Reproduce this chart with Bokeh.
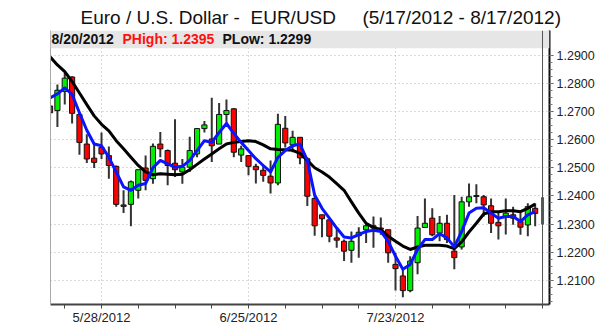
import pandas as pd
from bokeh.plotting import figure
from bokeh.models import (ColumnDataSource, LinearAxis, FixedTicker, NumeralTickFormatter,
                          BoxAnnotation, Span, Label)
from bokeh.embed import file_html
from bokeh.resources import INLINE

# ---- data ----
dates = [f"{d.month}/{d.day}/{d.year}" for d in pd.bdate_range("2012-05-17", "2012-08-17")]

opens = [1.2719, 1.2703, 1.2771, 1.2822, 1.2689, 1.2584, 1.2534, 1.2572, 1.2543, 1.2505,
         1.2368, 1.2370, 1.2420, 1.2499, 1.2461, 1.2584, 1.2561, 1.2516, 1.2485, 1.2502,
         1.2549, 1.2639, 1.2602, 1.2584, 1.2689, 1.2709, 1.2545, 1.2543, 1.2505, 1.2491,
         1.2470, 1.2446, 1.2640, 1.2581, 1.2608, 1.2532, 1.2391, 1.2333, 1.2315, 1.2251,
         1.2239, 1.2207, 1.2259, 1.2280, 1.2294, 1.2286, 1.2280, 1.2157, 1.2116, 1.2064,
         1.2163, 1.2288, 1.2321, 1.2268, 1.2303, 1.2204, 1.2219, 1.2379, 1.2401, 1.2397,
         1.2365, 1.2306, 1.2326, 1.2333, 1.2309, 1.2297, 1.2356]
highs = [1.2725, 1.2795, 1.2836, 1.2825, 1.2695, 1.2619, 1.2581, 1.2625, 1.2575, 1.2508,
         1.2420, 1.2455, 1.2493, 1.2543, 1.2586, 1.2627, 1.2565, 1.2672, 1.2531, 1.2610,
         1.2640, 1.2666, 1.2748, 1.2730, 1.2742, 1.2712, 1.2578, 1.2545, 1.2514, 1.2508,
         1.2526, 1.2692, 1.2684, 1.2631, 1.2608, 1.2537, 1.2403, 1.2333, 1.2315, 1.2286,
         1.2245, 1.2274, 1.2289, 1.2303, 1.2327, 1.2323, 1.2280, 1.2198, 1.2145, 1.2186,
         1.2329, 1.2391, 1.2356, 1.2329, 1.2333, 1.2403, 1.2397, 1.2444, 1.2441, 1.2403,
         1.2391, 1.2339, 1.2391, 1.2362, 1.2339, 1.2374, 1.2374]
lows = [1.2670, 1.2645, 1.2724, 1.2657, 1.2546, 1.2517, 1.2499, 1.2531, 1.2461, 1.2362,
        1.2339, 1.2292, 1.2391, 1.2420, 1.2443, 1.2537, 1.2438, 1.2467, 1.2443, 1.2485,
        1.2537, 1.2625, 1.2520, 1.2584, 1.2654, 1.2537, 1.2520, 1.2473, 1.2444, 1.2450,
        1.2409, 1.2438, 1.2572, 1.2555, 1.2512, 1.2364, 1.2259, 1.2253, 1.2236, 1.2216,
        1.2169, 1.2163, 1.2181, 1.2233, 1.2216, 1.2262, 1.2163, 1.2064, 1.2040, 1.2058,
        1.2122, 1.2286, 1.2257, 1.2239, 1.2233, 1.2140, 1.2210, 1.2362, 1.2374, 1.2327,
        1.2268, 1.2245, 1.2263, 1.2298, 1.2262, 1.2257, 1.2292]
closes = [1.2695, 1.2775, 1.2818, 1.2693, 1.2590, 1.2531, 1.2519, 1.2549, 1.2508, 1.2370,
          1.2363, 1.2450, 1.2493, 1.2455, 1.2576, 1.2567, 1.2508, 1.2493, 1.2502, 1.2561,
          1.2639, 1.2652, 1.2578, 1.2689, 1.2703, 1.2555, 1.2567, 1.2505, 1.2493, 1.2473,
          1.2446, 1.2654, 1.2588, 1.2608, 1.2535, 1.2399, 1.2294, 1.2319, 1.2257, 1.2243,
          1.2204, 1.2239, 1.2271, 1.2294, 1.2286, 1.2282, 1.2198, 1.2142, 1.2064, 1.2169,
          1.2286, 1.2303, 1.2262, 1.2303, 1.2245, 1.2181, 1.2379, 1.2397, 1.2398, 1.2368,
          1.2303, 1.2294, 1.2339, 1.2321, 1.2289, 1.2362, 1.2338]
ma_fast = [1.2748, 1.2762, 1.2783, 1.2760, 1.2695, 1.2633, 1.2584, 1.2578, 1.2537, 1.2485,
           1.2432, 1.2420, 1.2438, 1.2444, 1.2500, 1.2526, 1.2514, 1.2502, 1.2505, 1.2526,
           1.2561, 1.2596, 1.2590, 1.2625, 1.2657, 1.2622, 1.2590, 1.2561, 1.2532, 1.2508,
           1.2485, 1.2537, 1.2561, 1.2578, 1.2584, 1.2526, 1.2403, 1.2356, 1.2321, 1.2286,
           1.2254, 1.2251, 1.2263, 1.2274, 1.2278, 1.2274, 1.2239, 1.2186, 1.2140, 1.2157,
           1.2210, 1.2245, 1.2245, 1.2266, 1.2251, 1.2219, 1.2274, 1.2339, 1.2356, 1.2358,
           1.2339, 1.2321, 1.2327, 1.2327, 1.2309, 1.2333, 1.2344]
ma_slow = [1.2894, 1.2865, 1.2841, 1.2806, 1.2765, 1.2724, 1.2684, 1.2654, 1.2631, 1.2596,
           1.2567, 1.2537, 1.2508, 1.2485, 1.2475, 1.2479, 1.2477, 1.2475, 1.2477, 1.2493,
           1.2512, 1.2531, 1.2549, 1.2567, 1.2584, 1.2590, 1.2593, 1.2596, 1.2593, 1.2581,
           1.2567, 1.2565, 1.2564, 1.2562, 1.2551, 1.2526, 1.2500, 1.2485, 1.2467, 1.2444,
           1.2420, 1.2379, 1.2339, 1.2303, 1.2288, 1.2280, 1.2257, 1.2239, 1.2222, 1.2210,
           1.2219, 1.2225, 1.2225, 1.2225, 1.2222, 1.2213, 1.2237, 1.2272, 1.2303, 1.2336,
           1.2344, 1.2344, 1.2347, 1.2347, 1.2344, 1.2356, 1.2371]

p_date = "8/20/2012"
p_high = 1.2395
p_low = 1.2299

y_ticks = [1.21, 1.22, 1.23, 1.24, 1.25, 1.26, 1.27, 1.28, 1.29]
x_label_dates = ["5/28/2012", "6/25/2012", "7/23/2012"]

# ---- derived structures ----
n = len(closes)
xs = list(range(n))
up = [c >= o for o, c in zip(opens, closes)]
src = ColumnDataSource(dict(
    x=xs, high=highs, low=lows,
    top=[max(o, c) for o, c in zip(opens, closes)],
    bottom=[min(o, c) for o, c in zip(opens, closes)],
    color=["#00ee00" if u else "#ff0000" for u in up],
))
cur_x = n  # the 8/20 bar sits right after the last full day

major_idx = [dates.index(d) for d in x_label_dates]
monday_idx = [i for i, d in enumerate(pd.bdate_range("2012-05-17", "2012-08-17")) if d.weekday() == 0]
monday_idx.append(cur_x)
minor_idx = [i for i in monday_idx if i not in major_idx]

p = figure(width=600, height=327, x_range=(0.06, 67.95), y_range=(1.20147, 1.2987),
           y_axis_location="right", toolbar_location=None, output_backend="svg",
           min_border_left=50, min_border_right=51, min_border_top=30, min_border_bottom=20,
           background_fill_color="white", border_fill_color="white")
p.outline_line_color = None

# title
p.title.text = "Euro / U.S. Dollar -\u00a0 EUR/USD\u00a0\u00a0\u00a0\u00a0 (5/17/2012 - 8/17/2012)"
p.title.text_font = "Liberation Sans"
p.title.text_font_size = "19px"
p.title.text_font_style = "normal"
p.title.text_color = "#111111"
p.title.align = "left"
p.title.offset = 30
p.title.standoff = 6

# grids
p.xgrid.ticker = FixedTicker(ticks=major_idx)
p.ygrid.ticker = FixedTicker(ticks=y_ticks)
for g in (p.xgrid[0], p.ygrid[0]):
    g.grid_line_color = "#b4b4b4"
    g.grid_line_dash = "1 3"
    g.grid_line_width = 1

# bottom axis
xa = p.xaxis[0]
xa.ticker = FixedTicker(ticks=major_idx, minor_ticks=minor_idx)
xa.major_label_overrides = {i: dates[i] for i in major_idx}
xa.axis_line_color = "#444444"
xa.axis_line_width = 2
xa.major_tick_line_color = "#444444"
xa.minor_tick_line_color = "#444444"
xa.major_tick_in = 0
xa.major_tick_out = 4
xa.minor_tick_in = 0
xa.minor_tick_out = 4
xa.major_label_standoff = 1
xa.major_label_text_font = "Liberation Sans"
xa.major_label_text_font_size = "13px"
xa.major_label_text_color = "#222222"
xa.major_label_text_line_height = 1.0

# right axis
ya = p.yaxis[0]
ya.ticker = FixedTicker(ticks=y_ticks, minor_ticks=[round(1.2025 + 0.0025 * k, 4) for k in range(36)])
ya.formatter = NumeralTickFormatter(format="0.0000")
ya.axis_line_color = "#111111"
ya.axis_line_width = 2
ya.major_tick_line_color = "#555555"
ya.minor_tick_line_color = "#777777"
ya.major_tick_in = 0
ya.major_tick_out = 4
ya.minor_tick_in = 0
ya.minor_tick_out = 3
ya.major_label_standoff = 3
ya.major_label_text_font = "Liberation Sans"
ya.major_label_text_font_size = "12.5px"
ya.major_label_text_color = "#222222"

# left plain border
la = LinearAxis(ticker=FixedTicker(ticks=[]), axis_line_color="#a8a8a8", axis_line_width=1,
                major_tick_in=0, major_tick_out=0, minor_tick_in=0, minor_tick_out=0,
                major_label_text_font_size="0px")
p.add_layout(la, "left")

# candles
p.segment(x0="x", y0="high", x1="x", y1="low", source=src, line_color="#333333", line_width=2)
p.vbar(x="x", width=0.7, top="top", bottom="bottom", source=src,
       fill_color="color", line_color="#111111", line_width=1)

# moving averages
p.line(xs, ma_slow, line_color="#000000", line_width=3, line_join="round")
p.line(xs, ma_fast, line_color="#0a14ff", line_width=3, line_join="round")

# header strip
p.add_layout(BoxAnnotation(bottom=1.29239, fill_color="#e6e6e6", fill_alpha=1.0, line_color=None))
p.add_layout(Span(location=cur_x, dimension="height", line_color="#555555", line_width=1))
p.segment(x0=[cur_x], y0=[p_low], x1=[cur_x], y1=[p_high], line_color="#2c6e55", line_width=3)

hy = 1.29555
p.add_layout(Label(x=0.2, y=hy, text=p_date, text_font="Liberation Sans", text_font_size="14px",
                   text_font_style="bold", text_color="#111111", text_baseline="middle"))
p.add_layout(Label(x=9.86, y=hy, text=f"PHigh: {p_high:.4f}", text_font="Liberation Sans",
                   text_font_size="14px", text_font_style="bold", text_color="#ff1010",
                   text_baseline="middle"))
p.add_layout(Label(x=23.46, y=hy, text=f"PLow: {p_low:.4f}", text_font="Liberation Sans",
                   text_font_size="14px", text_font_style="bold", text_color="#111111",
                   text_baseline="middle"))

open("out.html", "w").write(file_html(p, INLINE))
